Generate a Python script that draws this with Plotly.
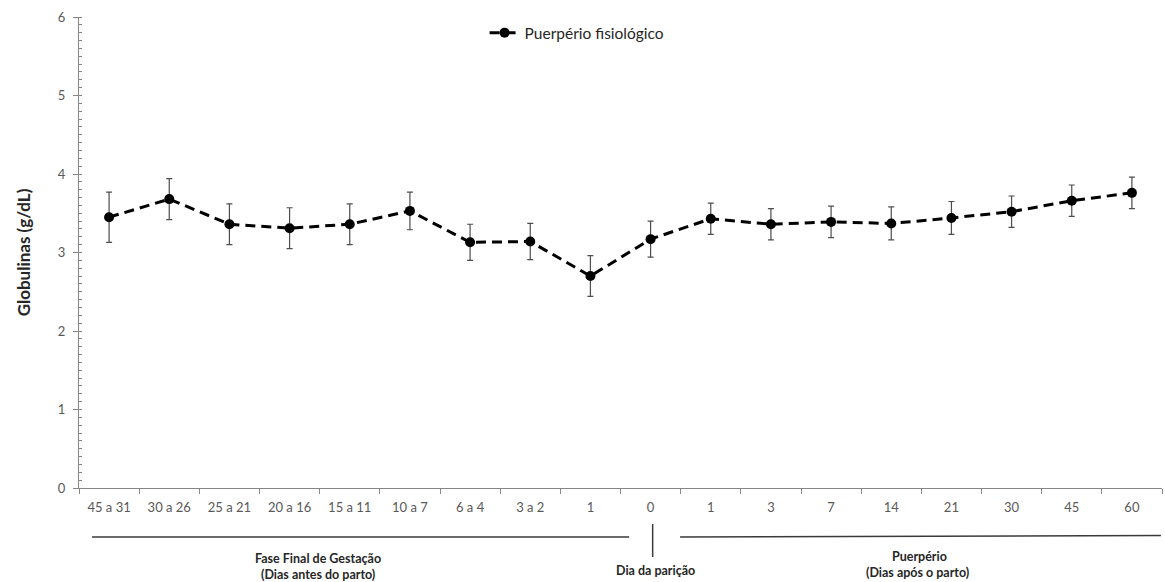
import plotly.graph_objects as go

categories = ["45 a 31", "30 a 26", "25 a 21", "20 a 16", "15 a 11", "10 a 7", "6 a 4", "3 a 2", "1",
              "0", "1", "3", "7", "14", "21", "30", "45", "60"]
globulinas = [3.45, 3.68, 3.36, 3.31, 3.36, 3.53, 3.13, 3.14, 2.70,
              3.17, 3.43, 3.36, 3.39, 3.37, 3.44, 3.52, 3.66, 3.76]
erro = [0.32, 0.26, 0.26, 0.26, 0.26, 0.24, 0.23, 0.23, 0.26,
        0.23, 0.20, 0.20, 0.20, 0.21, 0.21, 0.20, 0.20, 0.20]
serie_nome = "Puerpério fisiológico"

xpos = list(range(len(categories)))
FONT = "Lato, 'Open Sans', sans-serif"
GREY = "#595959"
AXIS = "#868686"

fig = go.Figure()
fig.add_trace(go.Scatter(
    x=xpos, y=globulinas, name=serie_nome, mode="lines+markers",
    line=dict(color="black", width=3, dash="10px,6px"),
    marker=dict(color="black", size=10),
    error_y=dict(type="data", array=erro, visible=True, color="#4d4d4d", thickness=1.2, width=3),
))

fig.update_layout(
    width=1165, height=582,
    margin=dict(l=79, r=3, t=17, b=94),
    paper_bgcolor="white", plot_bgcolor="white",
    font=dict(family=FONT, color=GREY, size=13),
    showlegend=True,
    legend=dict(x=0.3745, y=1.002, xanchor="left", yanchor="top", orientation="h",
                font=dict(size=15.5, color="#262626", family=FONT), bgcolor="rgba(0,0,0,0)",
                itemwidth=30),
    xaxis=dict(range=[-0.5, 17.5], tickvals=xpos, ticktext=categories, ticks="",
               showline=True, linecolor=AXIS, linewidth=1.3, showgrid=False, zeroline=False,
               tickfont=dict(size=13, color=GREY), ticklabelstandoff=7,
               minor=dict(tick0=-0.5, dtick=1, ticks="outside", ticklen=5, tickcolor=AXIS, tickwidth=1.3)),
    yaxis=dict(range=[0, 6], dtick=1, ticks="outside", ticklen=5, tickcolor=AXIS, tickwidth=1.3,
               showline=True, linecolor=AXIS, linewidth=1.3, showgrid=False, zeroline=False,
               tickfont=dict(size=13, color=GREY), ticklabelstandoff=5,
               title=dict(text="<b>Globulinas (g/dL)</b>", font=dict(size=17, color="#262626"), standoff=22),
               minor=dict(dtick=0.1, ticks="inside", ticklen=3, tickcolor=AXIS, tickwidth=1)),
)

line_style = dict(color="#3a3a3a", width=1.5)
fig.add_shape(type="line", xref="paper", yref="paper", x0=0.012, x1=0.508, y0=-0.104, y1=-0.104, line=line_style)
fig.add_shape(type="line", xref="paper", yref="paper", x0=0.555, x1=0.999, y0=-0.104, y1=-0.101, line=line_style)
fig.add_shape(type="line", xref="paper", yref="paper", x0=0.5297, x1=0.5297, y0=-0.0764, y1=-0.1465, line=line_style)

ann_font = dict(size=12.5, color="#262626", family=FONT)
for txt, x, y in [("<b>Fase Final de Gestação</b>", 0.2207, -0.149),
                  ("<b>(Dias antes do parto)</b>", 0.2207, -0.184),
                  ("<b>Dia da parição</b>", 0.532, -0.176),
                  ("<b>Puerpério</b>", 0.7762, -0.145),
                  ("<b>(Dias após o parto)</b>", 0.7745, -0.180)]:
    fig.add_annotation(text=txt, x=x, y=y, xref="paper", yref="paper", showarrow=False,
                       xanchor="center", yanchor="middle", font=ann_font)

fig.write_html("out.html")
